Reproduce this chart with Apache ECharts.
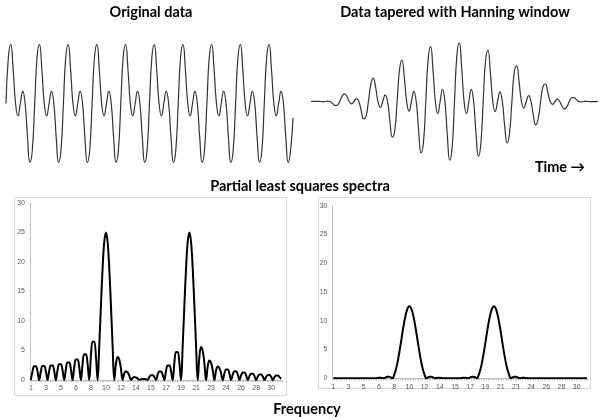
<!DOCTYPE html>
<html><head><meta charset="utf-8">
<script src="https://cdn.jsdelivr.net/npm/echarts@6/dist/echarts.min.js"></script>
<style>html,body{margin:0;padding:0;background:#fff}#c{width:600px;height:417px}</style>
</head><body><div id="c"></div>
<script>
// Top-left: original signal (arbitrary units), one sample per 1/12 of a cycle
const original = [
0,1.366,1.732,1,0,-0.366,0,0.366,0,-1,-1.732,-1.366,
0,1.366,1.732,1,0,-0.366,0,0.366,0,-1,-1.732,-1.366,
0,1.366,1.732,1,0,-0.366,0,0.366,0,-1,-1.732,-1.366,
0,1.366,1.732,1,0,-0.366,0,0.366,0,-1,-1.732,-1.366,
0,1.366,1.732,1,0,-0.366,0,0.366,0,-1,-1.732,-1.366,
0,1.366,1.732,1,0,-0.366,0,0.366,0,-1,-1.732,-1.366,
0,1.366,1.732,1,0,-0.366,0,0.366,0,-1,-1.732,-1.366,
0,1.366,1.732,1,0,-0.366,0,0.366,0,-1,-1.732,-1.366,
0,1.366,1.732,1,0,-0.366,0,0.366,0,-1,-1.732,-1.366,
0,1.366,1.732,1,0,-0.366,0,0.366,0,-1,-1.732,-1.366,
-0.42];
// Top-right: the same data tapered with a Hanning window
const tapered = [
0,0.001,0.005,0.006,0,-0.006,0,0.012,0,-0.055,-0.116,-0.110,
0,0.152,0.222,0.146,0,-0.068,0,0.083,0,-0.273,-0.514,-0.438,
0,0.506,0.686,0.422,0,-0.173,0,0.193,0,-0.578,-1.046,-0.860,
0,0.928,1.218,0.727,0,-0.283,0,0.298,0,-0.854,-1.510,-1.214,
0,1.256,1.616,0.946,0,-0.354,0,0.360,0,-0.994,-1.727,-1.365,
0,1.365,1.727,0.994,0,-0.360,0,0.354,0,-0.946,-1.616,-1.256,
0,1.214,1.510,0.854,0,-0.298,0,0.283,0,-0.727,-1.218,-0.928,
0,0.860,1.046,0.578,0,-0.193,0,0.173,0,-0.422,-0.686,-0.506,
0,0.438,0.514,0.273,0,-0.083,0,0.068,0,-0.146,-0.222,-0.152,
0,0.110,0.116,0.055,0,-0.012,0,0.006,0,-0.006,-0.005,-0.001,
0];
// Spectra: frequency categories
const freq = [
1,1.2,1.4,1.6,1.8,2,2.2,2.4,2.6,2.8,3,3.2,3.4,3.6,3.8,4,4.2,4.4,4.6,4.8,
5,5.2,5.4,5.6,5.8,6,6.2,6.4,6.6,6.8,7,7.2,7.4,7.6,7.8,8,8.2,8.4,8.6,8.8,
9,9.2,9.4,9.6,9.8,10,10.2,10.4,10.6,10.8,11,11.2,11.4,11.6,11.8,12,12.2,12.4,12.6,12.8,
13,13.2,13.4,13.6,13.8,14,14.2,14.4,14.6,14.8,15,15.2,15.4,15.6,15.8,16,16.2,16.4,16.6,16.8,
17,17.2,17.4,17.6,17.8,18,18.2,18.4,18.6,18.8,19,19.2,19.4,19.6,19.8,20,20.2,20.4,20.6,20.8,
21,21.2,21.4,21.6,21.8,22,22.2,22.4,22.6,22.8,23,23.2,23.4,23.6,23.8,24,24.2,24.4,24.6,24.8,
25,25.2,25.4,25.6,25.8,26,26.2,26.4,26.6,26.8,27,27.2,27.4,27.6,27.8,28,28.2,28.4,28.6,28.8,
29,29.2,29.4,29.6,29.8,30,30.2,30.4,30.6,30.8,31];
const spectrumOriginal = [
0,1.44,2.33,2.33,1.44, 0,1.47,2.38,2.38,1.47, 0,1.53,2.47,2.47,1.53, 0,1.65,2.67,2.67,1.65,
0,1.83,2.96,2.96,1.83, 0,2.16,3.49,3.49,2.16, 0,2.7,4.37,4.37,2.7, 0,4.02,6.5,6.5,4.02,
0,5.85,12.6,18.9,23.4, 25,23.4,18.9,12.6,5.85, 0,2.73,3.9,3.43,1.95, 0,1.13,1.5,1.28,0.75,
0,0.35,0.5,0.43,0.25, 0.05,0.12,0.19,0.19,0.12, 0.03,0.51,0.82,0.82,0.51, 0,0.9,1.46,1.46,0.9,
0,1.53,2.47,2.47,1.53, 0,2.94,4.75,4.75,2.94, 0,5.85,12.6,18.9,23.4, 25,23.4,18.9,12.6,5.85,
0,3.92,5.6,4.93,2.8, 0,2.31,3.3,2.9,1.65, 0,1.61,2.3,2.02,1.15, 0,1.11,1.79,1.79,1.11,
0,0.93,1.5,1.5,0.93, 0,0.78,1.26,1.26,0.78, 0,0.66,1.07,1.07,0.66, 0,0.58,0.94,0.94,0.58,
0,0.52,0.84,0.84,0.52, 0,0.48,0.78,0.78,0.48, 0.2];
const spectrumTapered = [
0,0,0,0,0, 0,0,0,0,0, 0,0,0,0,0, 0,0,0,0,0,
0,0,0,0,0, 0,0.05,0.09,0.09,0.05, 0,0.17,0.28,0.28,0.17, 0,0.58,1.51,2.81,4.43,
6.25,8.13,9.86,11.26,12.17, 12.5,12.17,11.26,9.86,8.13, 6.25,4.43,2.81,1.51,0.58, 0,0.17,0.28,0.28,0.17,
0,0.05,0.09,0.09,0.05, 0,0,0,0,0, 0,0,0,0,0, 0,0.05,0.09,0.09,0.05,
0,0.17,0.28,0.28,0.17, 0,0.58,1.51,2.81,4.43, 6.25,8.13,9.86,11.26,12.17, 12.5,12.17,11.26,9.86,8.13,
6.25,4.43,2.81,1.51,0.58, 0,0.17,0.28,0.28,0.17, 0,0.05,0.09,0.09,0.05, 0,0,0,0,0,
0,0,0,0,0, 0,0,0,0,0, 0,0,0,0,0, 0,0,0,0,0,
0,0,0,0,0, 0,0,0,0,0, 0];
const yTicks = [0, 5, 10, 15, 20, 25, 30];
const titles = ['Original data', 'Data tapered with Hanning window', 'Partial least squares spectra', 'Frequency', 'Time \u2192'];

const sampleIdx = original.map((_, i) => i);
const chart = echarts.init(document.getElementById('c'), null, {renderer: 'canvas'});

const titleFont = 'bold 14.5px Lato, "Open Sans", sans-serif';
const tickFont = {fontSize: 7, color: '#595959', fontFamily: '"Liberation Sans", sans-serif'};

function sigX(i) {
  return {gridIndex: i, type: 'category', data: sampleIdx, boundaryGap: false, show: false};
}
function sigY(i) {
  return {gridIndex: i, type: 'value', min: -2.2, max: 2.2, show: false};
}
function specX(i) {
  return {
    gridIndex: i, type: 'category', data: freq, boundaryGap: true,
    axisLine: {show: true, lineStyle: {color: '#bfbfbf', width: 1}},
    axisTick: {show: true, interval: 0, length: 2, lineStyle: {color: '#bfbfbf'}},
    axisLabel: Object.assign({interval: 8, margin: 5, formatter: v => String(Math.round(parseFloat(v)))}, tickFont),
    splitLine: {show: false}
  };
}
function specY(i) {
  return {
    gridIndex: i, type: 'value', min: yTicks[0], max: yTicks[yTicks.length - 1], interval: 5,
    axisLine: {show: true, lineStyle: {color: '#bfbfbf', width: 1}},
    axisTick: {show: false},
    axisLabel: Object.assign({margin: 5}, tickFont),
    splitLine: {show: false}
  };
}

chart.setOption({
  animation: false,
  backgroundColor: '#fff',
  grid: [
    {left: 6, top: 28.7, width: 287, height: 149.6},
    {left: 311, top: 26.7, width: 287, height: 149.6},
    {left: 30, top: 203, width: 252, height: 177},
    {left: 332.5, top: 205.6, width: 255.2, height: 172.7}
  ],
  xAxis: [sigX(0), sigX(1), specX(2), specX(3)],
  yAxis: [sigY(0), sigY(1), specY(2), specY(3)],
  series: [
    {type: 'line', xAxisIndex: 0, yAxisIndex: 0, data: original, smooth: 0.5, symbol: 'none',
     lineStyle: {color: '#333', width: 1.2}},
    {type: 'line', xAxisIndex: 1, yAxisIndex: 1, data: tapered, smooth: 0.5, symbol: 'none',
     lineStyle: {color: '#333', width: 1.2}},
    {type: 'line', xAxisIndex: 2, yAxisIndex: 2, data: spectrumOriginal, smooth: 0.4, symbol: 'none',
     lineStyle: {color: '#000', width: 2}},
    {type: 'line', xAxisIndex: 3, yAxisIndex: 3, data: spectrumTapered, smooth: 0.4, symbol: 'none',
     lineStyle: {color: '#000', width: 2}}
  ],
  graphic: [
    {type: 'rect', shape: {x: 14.5, y: 197.5, width: 272, height: 198}, style: {fill: 'none', stroke: '#d9d9d9', lineWidth: 1}, z: -1},
    {type: 'rect', shape: {x: 318.5, y: 197.5, width: 272, height: 191}, style: {fill: 'none', stroke: '#d9d9d9', lineWidth: 1}, z: -1},
    {type: 'text', x: 151, y: 12, style: {text: titles[0], font: titleFont, fill: '#000', textAlign: 'center', textVerticalAlign: 'middle'}},
    {type: 'text', x: 455, y: 12, style: {text: titles[1], font: titleFont, fill: '#000', textAlign: 'center', textVerticalAlign: 'middle'}},
    {type: 'text', x: 300, y: 186, style: {text: titles[2], font: titleFont, fill: '#000', textAlign: 'center', textVerticalAlign: 'middle'}},
    {type: 'text', x: 307, y: 409, style: {text: titles[3], font: titleFont, fill: '#000', textAlign: 'center', textVerticalAlign: 'middle'}},
    {type: 'text', x: 560, y: 167, style: {text: titles[4], font: titleFont, fill: '#000', textAlign: 'center', textVerticalAlign: 'middle'}}
  ]
});
</script>
</body></html>
